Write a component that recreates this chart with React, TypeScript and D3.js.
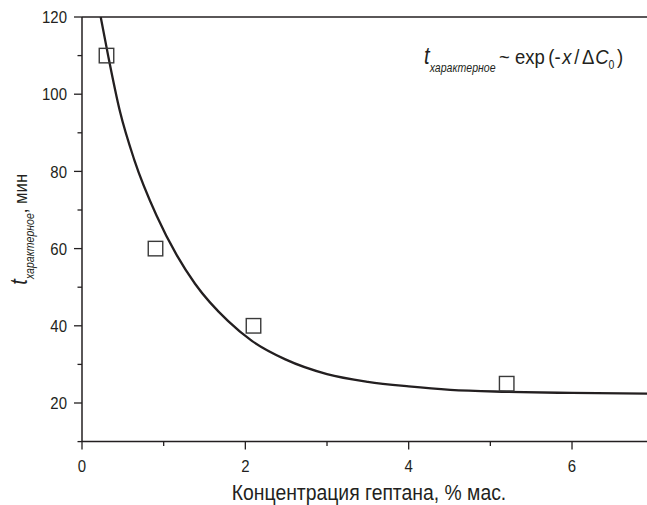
import React from "react";
import * as d3 from "d3";

const W = 647;
const H = 505;

// measured data points (squares)
const pointX = [0.3, 0.9, 2.1, 5.2];
const pointY = [110, 60, 40, 25];

// fitted curve
const curveX = [0.229, 0.32, 0.465, 0.64, 0.914, 1.16, 1.384, 1.79, 2.08, 2.49, 3.0, 3.5, 4.0, 4.51, 5.2, 6.0, 7.0];
const curveY = [120, 110, 95.5, 83, 68.5, 58.3, 50.9, 41.2, 36.1, 31.3, 27.5, 25.5, 24.3, 23.4, 22.9, 22.6, 22.4];

const xMajorTicks = [0, 2, 4, 6];
const xMinorTicks = [1, 3, 5];
const yMajorTicks = [20, 40, 60, 80, 100, 120];
const yMinorTicks = [10, 30, 50, 70, 90, 110];

const xLabel = "Концентрация гептана, % мас.";

const FONT = "'Liberation Sans', Arial, sans-serif";
const INK = "#231f20";
const SX = 0.88; // horizontal compression to mimic a condensed face

export default function App() {
  const x = d3.scaleLinear().domain([0, 7]).range([82, 82 + 7 * 81.67]);
  const y = d3.scaleLinear().domain([10, 120]).range([441.6, 17]);
  const left = x(0);
  const bottom = y(10);
  const top = y(120);

  const curvePts: [number, number][] = curveX.map((v, i) => [v, curveY[i]]);
  const line = d3
    .line<[number, number]>()
    .x((d) => x(d[0]))
    .y((d) => y(d[1]))
    .curve(d3.curveMonotoneX);

  const sq = 14.5;

  return (
    <svg
      width={W}
      height={H}
      style={{ position: "absolute", left: 0, top: 0, background: "#fff" }}
      fontFamily={FONT}
    >
      <defs>
        <clipPath id="plot">
          <rect x={left} y={top} width={W - left} height={bottom - top} />
        </clipPath>
      </defs>
      {/* frame */}
      <line x1={left} x2={W} y1={top} y2={top} stroke={INK} strokeWidth={1.5} />
      <line x1={left} x2={W} y1={bottom} y2={bottom} stroke={INK} strokeWidth={1.5} />
      <line x1={left} x2={left} y1={top} y2={bottom} stroke={INK} strokeWidth={1.5} />

      {/* y ticks */}
      {yMajorTicks.map((t) => (
        <g key={"ym" + t}>
          <line x1={left - 8} x2={left} y1={y(t)} y2={y(t)} stroke={INK} strokeWidth={1.3} />
          <text
            transform={`translate(${left - 15}, ${y(t)}) scale(${SX},1)`}
            dy="0.36em"
            textAnchor="end"
            fontSize={17}
            fill={INK}
          >
            {t}
          </text>
        </g>
      ))}
      {yMinorTicks.map((t) => (
        <line key={"yn" + t} x1={left - 4.5} x2={left} y1={y(t)} y2={y(t)} stroke={INK} strokeWidth={1.3} />
      ))}

      {/* x ticks */}
      {xMajorTicks.map((t) => (
        <g key={"xm" + t}>
          <line x1={x(t)} x2={x(t)} y1={bottom} y2={bottom + 8} stroke={INK} strokeWidth={1.3} />
          <text
            transform={`translate(${x(t)}, ${bottom + 30}) scale(${SX},1)`}
            textAnchor="middle"
            fontSize={17}
            fill={INK}
          >
            {t}
          </text>
        </g>
      ))}
      {xMinorTicks.map((t) => (
        <line key={"xn" + t} x1={x(t)} x2={x(t)} y1={bottom} y2={bottom + 4.5} stroke={INK} strokeWidth={1.3} />
      ))}

      {/* curve */}
      <path d={line(curvePts) || ""} fill="none" stroke={INK} strokeWidth={2.3} clipPath="url(#plot)" />

      {/* squares */}
      {pointX.map((v, i) => (
        <rect
          key={"p" + i}
          x={x(v) - sq / 2}
          y={y(pointY[i]) - sq / 2}
          width={sq}
          height={sq}
          fill="none"
          stroke="#3a3a3a"
          strokeWidth={1.4}
        />
      ))}

      {/* formula */}
      <text transform={`translate(424, 64) scale(${SX},1)`} fontSize={21} fill={INK}>
        <tspan fontStyle="italic" fontSize={23}>t</tspan>
        <tspan fontStyle="italic" fontSize={12} dy={8}>характерное</tspan>
        <tspan dy={-8} dx={4}>~ exp</tspan>
        <tspan dx={4}>(-</tspan>
        <tspan fontStyle="italic" dx={2}>x</tspan>
        <tspan dx={3}>/</tspan>
        <tspan dx={3}>Δ</tspan>
        <tspan fontStyle="italic" dx={1}>C</tspan>
        <tspan fontSize={12} dy={5}>0</tspan>
        <tspan dy={-5} dx={3}>)</tspan>
      </text>

      {/* x label */}
      <text
        transform={`translate(369, 500) scale(${SX},1)`}
        textAnchor="middle"
        fontSize={22}
        fill={INK}
      >
        {xLabel}
      </text>

      {/* y label */}
      <text
        transform={`translate(27, ${(top + bottom) / 2}) rotate(-90) scale(${SX},1)`}
        textAnchor="middle"
        fontSize={19}
        fill={INK}
      >
        <tspan fontStyle="italic" fontSize={23}>t</tspan>
        <tspan fontStyle="italic" fontSize={12} dy={7}>характерное</tspan>
        <tspan dy={-7}>, мин</tspan>
      </text>
    </svg>
  );
}
